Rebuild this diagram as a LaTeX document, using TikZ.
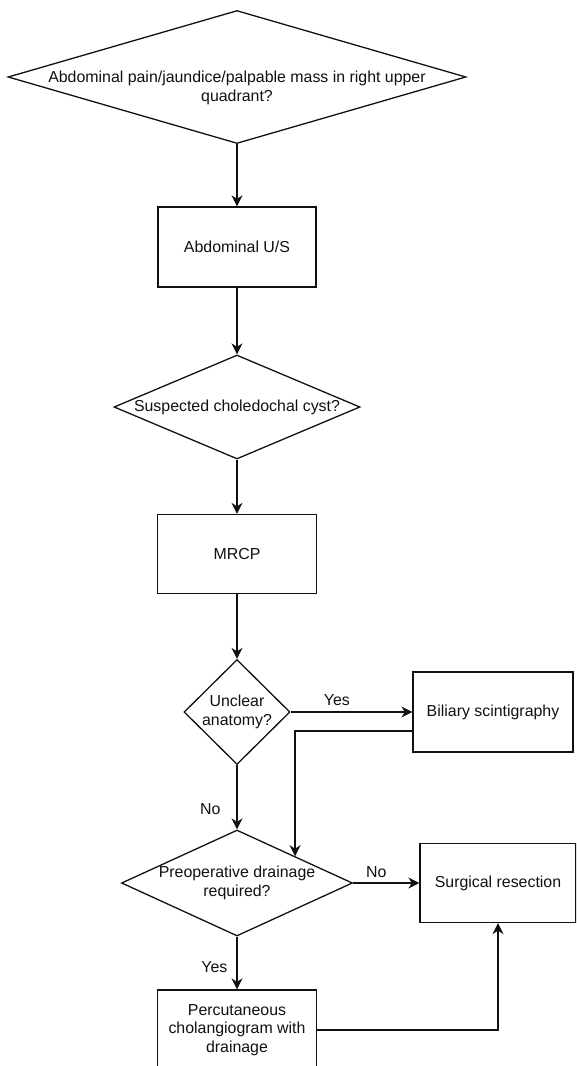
\documentclass[tikz,border=0pt]{standalone}
\usepackage{fontspec}
\setmainfont{Liberation Sans}
\usepackage{tikz}
\usetikzlibrary{arrows.meta,positioning,shapes.geometric}
\definecolor{ink}{HTML}{111111}
\tikzset{
  stepbox/.style={draw=ink,fill=white,line width=1.3pt,minimum width=158pt,
                  minimum height=80pt,inner sep=2pt,align=center,text=ink,
                  font=\fontsize{15.9}{18.5}\selectfont},
  decision/.style={draw=ink,fill=white,line width=1.3pt,shape=diamond,
                   inner sep=0pt},
  qtext/.style={align=center,text=ink,inner sep=0pt,
                font=\fontsize{15.9}{19.5}\selectfont},
  answer/.style={text=ink,inner sep=0pt,font=\fontsize{15.9}{18.5}\selectfont},
  flowarr/.style={-{Stealth[length=11pt,width=11pt,inset=3.5pt]},
                  line width=1.3pt,draw=ink}
}

\begin{document}
\begin{tikzpicture}[x=1pt,y=-1pt]
    \path[use as bounding box] (0,0) rectangle (576,1066);
    \clip (0,0) rectangle (576,1066);
    \node[decision,minimum width=458pt,minimum height=133pt,
          label={[qtext,yshift=-11pt]center:{Abdominal pain/jaundice/palpable mass in right upper\\quadrant?}}]
      (pain) at (237,77) {};
    \node[stepbox] (us) at (237,247) {Abdominal U/S};
    \node[decision,minimum width=246pt,minimum height=104pt,
          label={[qtext]center:{Suspected choledochal cyst?}}]
      (cyst) at (237,407) {};
    \node[stepbox,minimum width=159pt,minimum height=79pt] (mrcp) at (237,554) {MRCP};
    \node[decision,minimum width=106pt,minimum height=105pt,
          label={[qtext]center:{Unclear\\anatomy?}}]
      (unclear) at (237,712) {};
    \node[stepbox,minimum width=160pt] (scint) at (493,712) {Biliary scintigraphy};
    \node[decision,minimum width=231pt,minimum height=106pt,
          label={[qtext]center:{Preoperative drainage\\required?}}]
      (drain) at (237,883) {};
    \node[stepbox,minimum width=156pt,minimum height=79pt] (resect) at (498,883) {Surgical resection};
    \node[stepbox,minimum width=159pt] (perc) at (237,1030)
      {Percutaneous\\cholangiogram with\\drainage};

    \draw[flowarr] (pain.south) -- (us.north);
    \draw[flowarr] (us.south) -- (cyst.north);
    \draw[flowarr] (cyst.south) -- (mrcp.north);
    \draw[flowarr] (mrcp.south) -- (unclear.north);
    \draw[flowarr] (unclear.east) -- node[answer,above=6pt,pos=0.38] {Yes} (scint.west);
    \draw[flowarr] ([yshift=-19pt]scint.west) -| (drain.north east);
    \draw[flowarr] (unclear.south) -- node[answer,left=16pt,pos=0.68] {No} (drain.north);
    \draw[flowarr] (drain.east) -- node[answer,above=5pt,pos=0.35] {No} (resect.west);
    \draw[flowarr] (drain.south) -- node[answer,left=9pt,pos=0.57] {Yes} (perc.north);
    \draw[flowarr] (perc.east) -| (resect.south);
  \end{tikzpicture}
\end{document}
